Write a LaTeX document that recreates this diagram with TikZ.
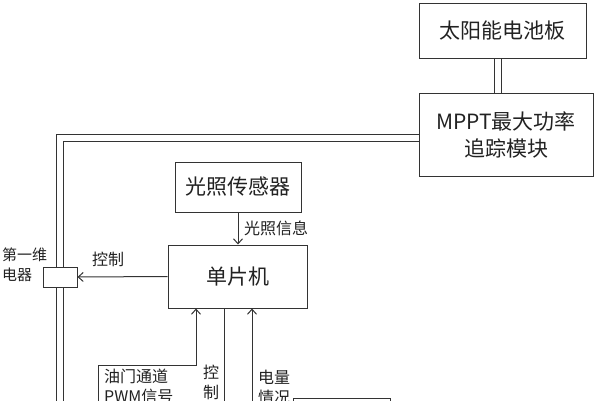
\documentclass[tikz,border=0pt]{standalone}
\usepackage{fontspec}
\setmainfont{Noto Sans CJK SC}
\usetikzlibrary{arrows.meta}
\definecolor{ln}{HTML}{333333}
\definecolor{tx}{HTML}{222222}
\tikzset{
  box/.style={draw=ln, line width=1pt, fill=white, rectangle, inner sep=0pt, text=tx},
  big/.style={font=\fontsize{21}{27}\selectfont},
  small/.style={font=\fontsize{16}{20}\selectfont, text=tx, inner sep=0pt},
  dbl/.style={draw=ln, line width=1pt, double=white, double distance=5.5pt},
  arr/.style={draw=ln, line width=1pt, -{Straight Barb[length=5pt,width=9pt]}},
  plain/.style={draw=ln, line width=1pt}
}
\begin{document}
\begin{tikzpicture}[x=1pt,y=-1pt]
\useasboundingbox (0,0) rectangle (595,400);
\clip (0,0) rectangle (595,400);
\fill[white] (0,0) rectangle (595,400);

% nodes
\node[box,big,minimum width=167pt,minimum height=55pt] (solar) at (502.5,30.5) {太阳能电池板};
\node[box,big,minimum width=174pt,minimum height=83pt,align=center] (mppt) at (506,134.5) {MPPT最大功率\\追踪模块};
\node[box,big,minimum width=126pt,minimum height=50pt] (sensor) at (238,187) {光照传感器};
\node[box,big,minimum width=139pt,minimum height=63pt] (mcu) at (237.5,276.5) {单片机};
\node[box,minimum width=34pt,minimum height=20pt] (relay) at (60,277) {};
\node[box,minimum width=97pt,minimum height=44pt] (batt) at (341.5,420) {};

\coordinate (down1) at (60,420);
\coordinate (pwm) at (98,420);
\coordinate (ctrlout) at (224,440);
\coordinate (pwr) at (252,420);

% double power lines
\draw[dbl] ([xshift=-4.5pt]solar.south) -- ([xshift=-4.5pt]solar.south |- mppt.north);
\draw[dbl] ([yshift=-3.5pt]mppt.west) -| (relay.north);
\draw[dbl] (relay.south) -- (down1);

% signal arrows
\draw[arr] (sensor.south) -- (sensor.south |- mcu.north);
\draw[arr] (mcu.west) -- (relay.east);
\draw[arr] (pwm) -- (98,365) -| ([xshift=-41.5pt]mcu.south);
\draw[arr] ([xshift=-13.5pt]mcu.south) -- (ctrlout);
\draw[arr] (pwr) -- ([xshift=14.5pt]mcu.south);

% labels
\node[small,anchor=west] (l1) at (244,228) {光照信息};
\node[small] (l2) at (108,259) {控制};
\node[small,anchor=west,align=left,font=\fontsize{15}{20}\selectfont] (l3) at (2,265) {第一维\\电器};
\node[small,align=center] (l4) at (211,382) {控\\制};
\node[small,anchor=north west,align=left] (l5) at (104,369) {油门通道\\PWM信号};
\node[small,anchor=north west,align=left] (l6) at (258,370) {电量\\情况};
\end{tikzpicture}
\end{document}
